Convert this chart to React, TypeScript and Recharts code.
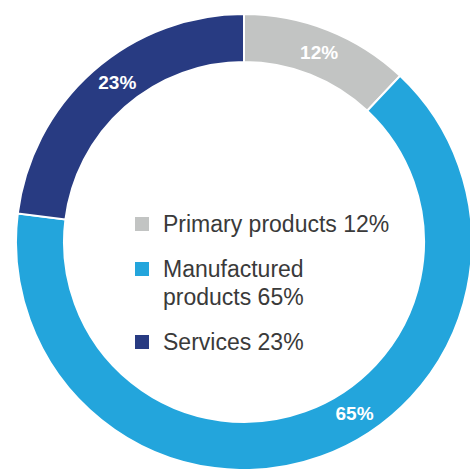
import { PieChart, Pie, Cell } from 'recharts'

const categories = ['Primary products', 'Manufactured products', 'Services']
const shares = [12, 65, 23]
const legendLines = [['Primary products 12%'], ['Manufactured', 'products 65%'], ['Services 23%']]
const colors = ['#c2c4c3', '#23a5dc', '#283b82']

const data = categories.map((name, i) => ({ name, value: shares[i] }))

// labels in the original are nudged along the ring a little
const labelShift = [0, 13, -3]
const RADIAN = Math.PI / 180

function renderLabel(props: any) {
  const { cx, cy, midAngle, innerRadius, outerRadius, index, value } = props
  const r = (innerRadius + outerRadius) / 2
  const a = (midAngle + labelShift[index]) * RADIAN
  const x = cx + r * Math.cos(-a)
  const y = cy + r * Math.sin(-a)
  return (
    <text
      x={x}
      y={y}
      fill="#fff"
      textAnchor="middle"
      dominantBaseline="central"
      fontSize={19}
      fontWeight="bold"
      fontFamily="Liberation Sans, Arial, sans-serif"
    >
      {value}%
    </text>
  )
}

function ChartLegend() {
  return (
    <div
      style={{
        position: 'absolute',
        left: 135,
        top: 210,
        fontFamily: 'Liberation Sans, Arial, sans-serif',
        fontSize: 23,
        lineHeight: '28px',
        color: '#3a3a3a',
      }}
    >
      {legendLines.map((lines, i) => (
        <div key={i} style={{ display: 'flex', alignItems: 'flex-start', marginBottom: 17 }}>
          <span style={{ width: 14, height: 14, marginTop: 7, background: colors[i], flexShrink: 0 }} />
          <span style={{ marginLeft: 14 }}>
            {lines.map((l, j) => (
              <div key={j} style={{ whiteSpace: 'nowrap' }}>{l}</div>
            ))}
          </span>
        </div>
      ))}
    </div>
  )
}

export default function App() {
  return (
    <div style={{ position: 'fixed', left: 0, top: 0, width: 470, height: 469, background: '#fff' }}>
      <PieChart width={470} height={469} margin={{ top: 0, right: 0, bottom: 0, left: 0 }}>
        <Pie
          data={data}
          dataKey="value"
          nameKey="name"
          cx={244}
          cy={242}
          innerRadius={180}
          outerRadius={228}
          startAngle={90}
          endAngle={-270}
          stroke="#fff"
          strokeWidth={2}
          label={renderLabel}
          labelLine={false}
          isAnimationActive={false}
        >
          {data.map((d, i) => (
            <Cell key={d.name} fill={colors[i]} />
          ))}
        </Pie>
      </PieChart>
      <ChartLegend />
    </div>
  )
}
